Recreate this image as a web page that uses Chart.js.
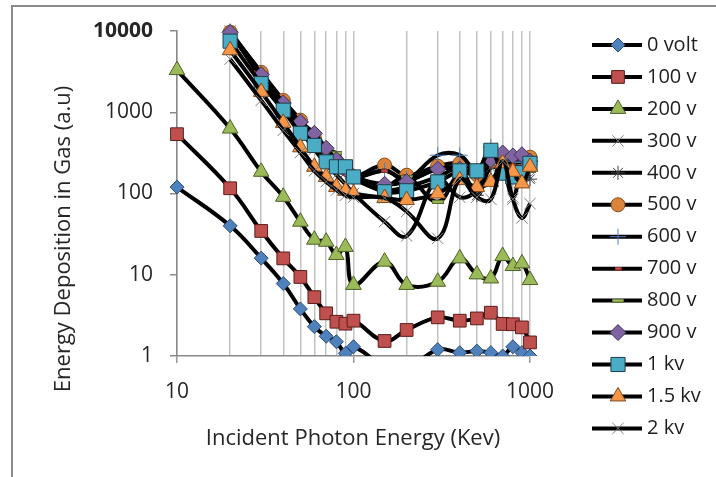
<!DOCTYPE html>
<html><head><meta charset="utf-8">
<script src="https://cdn.jsdelivr.net/npm/chart.js@4.4.1/dist/chart.umd.min.js"></script>
<style>
html,body{margin:0;padding:0;background:#fff;overflow:hidden;width:716px;height:477px;}
#frame{position:absolute;left:11px;top:5px;width:800px;height:600px;border-top:2px solid #8a8a8a;border-left:2px solid #8a8a8a;}
#c{position:absolute;left:0;top:0;}
</style></head><body>
<div id="frame"></div>
<canvas id="c" width="716" height="477"></canvas>
<script>
// ---------- DATA ----------
const xValues = [10,20,30,40,50,60,70,80,90,100,150,200,300,400,500,600,700,800,900,1000];
const seriesNames = ['0 volt','100 v','200 v','300 v','400 v','500 v','600 v','700 v','800 v','900 v','1 kv','1.5 kv','2 kv'];
const v0    = [120,40,16,7.8,3.8,2.3,1.75,1.5,1.08,1.3,0.75,0.7,1.2,1.1,1.15,1.1,1.0,1.3,1.1,1.0];
const v100  = [537,116,34.6,15.9,9.4,5.3,3.35,2.64,2.5,2.72,1.53,2.09,2.99,2.72,2.9,3.41,2.48,2.46,2.25,1.47];
const v200  = [3300,630,185,91,45,27,25.5,17.5,22,7.5,14.5,7.5,8.2,15.9,10.1,9.0,17,12.8,13.8,8.6];
const v300  = [null,10000,2600,1150,600,350,230,170,130,100,45,30,150,90,110,230,200,90,180,160];
const v400  = [null,9800,2800,1250,700,430,300,220,180,150,110,120,160,200,95,210,190,170,160,150];
const v500  = [null,9700,3100,1400,800,480,330,250,200,160,224,168,217,235,170,250,240,230,260,280];
const v600  = [null,9900,3000,1300,750,460,320,240,190,155,190,150,296,296,190,370,260,250,240,230];
const v700  = [null,9500,2900,1250,720,450,330,260,200,160,190,150,200,210,180,260,240,220,210,200];
const v800  = [null,9400,2800,1200,700,430,330,315,220,170,123,160,79,180,170,230,220,200,200,190];
const v900  = [null,9600,2900,1300,760,550,360,260,200,160,130,140,200,200,180,260,315,290,300,250];
const v1k   = [null,7500,2250,1060,550,390,245,213,213,160,105,108,139,190,190,340,178,160,180,235];
const v1_5k = [null,5800,1780,740,370,213,160,120,108,100,88,83,100,146,120,139,235,185,133,213];
const v2k   = [null,4500,1400,600,320,190,140,110,95,90,88,60,28,150,90,85,250,85,50,75];
const seriesValues = [v0,v100,v200,v300,v400,v500,v600,v700,v800,v900,v1k,v1_5k,v2k];
const xTickValues = [10,20,30,40,50,60,70,80,90,100,200,300,400,500,600,700,800,900,1000];
const xLabelValues = [10,100,1000];
const yTickValues = [1,10,100,1000,10000];

// ---------- STYLES ----------
function barImg(w,h,fill,stroke){
  const c=document.createElement('canvas'); c.width=w; c.height=h;
  const g=c.getContext('2d'); g.fillStyle=stroke; g.fillRect(0,0,w,h);
  g.fillStyle=fill; g.fillRect(1,1,w-2,h-2); return c;
}
const styles = [
  {ps:'rectRot', r:7,  bg:'#4f81bd', bc:'#2c4d75', bw:1},
  {ps:'rect',    r:9,  bg:'#c0504d', bc:'#5a1e1c', bw:1},
  {ps:'triangle',r:9,  bg:'#9bbb59', bc:'#4e6128', bw:1},
  {ps:'crossRot',r:8,  bg:'#7f7f7f', bc:'#7f7f7f', bw:1},
  {ps:'star',    r:7,  bg:'#404040', bc:'#404040', bw:1},
  {ps:'circle',  r:7,  bg:'#d9843a', bc:'#8a4d1a', bw:1},
  {ps:'cross',   r:8,  bg:'#4f81bd', bc:'#4f81bd', bw:1},
  {ps:barImg(7,4,'#c0504d','#7a2a28'), r:4, bg:'#c0504d', bc:'#7a2a28', bw:1},
  {ps:barImg(12,4,'#9bbb59','#5a6e30'), r:4, bg:'#9bbb59', bc:'#5a6e30', bw:1},
  {ps:'rectRot', r:8,  bg:'#8064a2', bc:'#3f3151', bw:1},
  {ps:'rect',    r:10, bg:'#4bacc6', bc:'#1d3f4a', bw:1},
  {ps:'triangle',r:9,  bg:'#f79646', bc:'#7f4a1c', bw:1},
  {ps:'crossRot',r:8,  bg:'#7f7f7f', bc:'#7f7f7f', bw:1}
];

const datasets = seriesNames.map((name,i)=>({
  label:name,
  data: xValues.map((x,j)=>({x:x, y:seriesValues[i][j]})),
  borderColor:'#000', borderWidth:4, tension:0.4, fill:false,
  pointStyle:styles[i].ps, pointRadius:styles[i].r, pointHoverRadius:styles[i].r,
  pointBackgroundColor:styles[i].bg, pointBorderColor:styles[i].bc, pointBorderWidth:styles[i].bw,
  clip:{left:20,top:20,right:20,bottom:0},
  order: seriesNames.length - i
}));

const FONT='"Open Sans"';
const overlay = {
  id:'overlay',
  afterDraw(chart){
    const ctx=chart.ctx;
    chart.data.datasets.forEach((ds,i)=>{
      const y = 45 + i*31.95;
      ctx.save();
      ctx.strokeStyle='#000'; ctx.lineWidth=4;
      ctx.beginPath(); ctx.moveTo(592,y); ctx.lineTo(642,y); ctx.stroke();
      ctx.fillStyle=ds.pointBackgroundColor; ctx.strokeStyle=ds.pointBorderColor; ctx.lineWidth=ds.pointBorderWidth;
      Chart.helpers.drawPoint(ctx,{pointStyle:ds.pointStyle,radius:ds.pointRadius,rotation:0,borderWidth:ds.pointBorderWidth},618,y);
      ctx.fillStyle='#1e1e1e'; ctx.font='20px '+FONT; ctx.textBaseline='middle'; ctx.textAlign='left';
      ctx.fillText(ds.label,647,y);
      ctx.restore();
    });
    ctx.save();
    ctx.fillStyle='#262626'; ctx.font='22px '+FONT; ctx.textAlign='center'; ctx.textBaseline='middle';
    ctx.fillText('Incident Photon Energy (Kev)',353,439);
    ctx.translate(64,239); ctx.rotate(-Math.PI/2);
    ctx.fillText('Energy Deposition in Gas (a.u)',0,0);
    ctx.restore();
  }
};

new Chart(document.getElementById('c'),{
  type:'line',
  data:{datasets},
  options:{
    responsive:false, animation:false, devicePixelRatio:1,
    layout:{padding:{left:0,top:31,right:186,bottom:0}},
    plugins:{legend:{display:false},tooltip:{enabled:false},title:{display:false}},
    scales:{
      x:{
        type:'logarithmic', min:10, max:1000,
        afterFit(s){ s.height=121; },
        afterBuildTicks(s){ s.ticks = xTickValues.map(v=>({value:v})); },
        ticks:{autoSkip:false,maxRotation:0,padding:16,color:'#262626',font:{family:FONT,size:21},
          callback:(v)=> xLabelValues.includes(v) ? String(v) : ''},
        grid:{color:'#c2c2c2',lineWidth:1.5,drawTicks:true,tickLength:7,
          tickColor:(c)=> (c.tick && xLabelValues.includes(c.tick.value)) ? '#9a9a9a' : 'rgba(0,0,0,0)'},
        border:{display:true,color:'#8a8a8a',width:1.5}
      },
      y:{
        type:'logarithmic', min:1, max:10000,
        afterFit(s){ s.width=177; },
        afterBuildTicks(s){ s.ticks = yTickValues.map(v=>({value:v})); },
        ticks:{padding:17,color:'#262626',
          font:(c)=>({family:FONT,size:21,weight:(c.tick && c.tick.value===10000)?'bold':'normal'}),
          callback:(v)=>String(v)},
        grid:{drawOnChartArea:false,drawTicks:true,tickLength:7,color:'#8a8a8a',lineWidth:1.5},
        border:{display:true,color:'#8a8a8a',width:1.5}
      }
    }
  },
  plugins:[overlay]
});
</script>
</body></html>
